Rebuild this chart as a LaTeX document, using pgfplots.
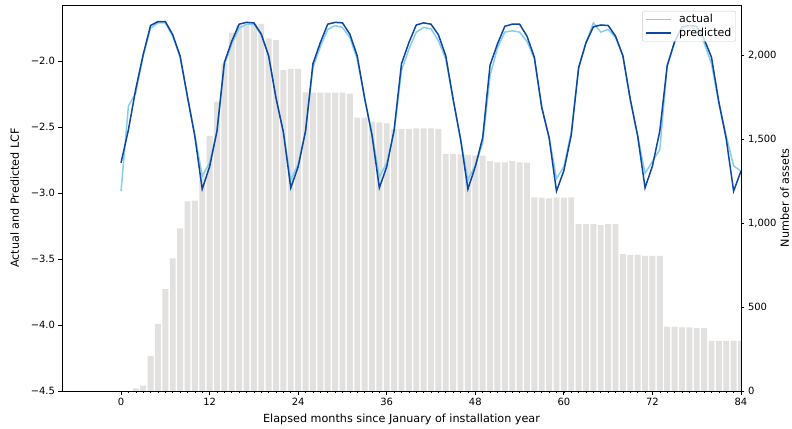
\documentclass[border=0pt]{standalone}
\usepackage{fontspec}
\setmainfont{DejaVu Sans}
\usepackage{pgfplots}
\usepackage{pgfplotstable}
\pgfplotsset{compat=1.18}
\pgfplotsset{/pgf/number format/assume math mode=true}

\definecolor{barcol}{HTML}{E2E1DF}
\definecolor{actcol}{HTML}{87CEEB}
\definecolor{predcol}{HTML}{0D47A1}

% month, number of assets, actual LCF, predicted LCF
\pgfplotstableread{
m  n     act     pred
0  0     -2.985  -2.77
1  0     -2.34   -2.52
2  16    -2.24   -2.21
3  32    -1.96   -1.95
4  208   -1.75   -1.73
5  399   -1.71   -1.70
6  607   -1.71   -1.70
7  790   -1.81   -1.80
8  968   -1.97   -1.96
9  1129  -2.27   -2.27
10 1133  -2.56   -2.57
11 1293  -2.87   -2.97
12 1519  -2.77   -2.80
13 1722  -2.53   -2.53
14 1950  -2.03   -2.01
15 2134  -1.87   -1.85
16 2180  -1.75   -1.72
17 2186  -1.72   -1.706
18 2186  -1.72   -1.71
19 2185  -1.80   -1.795
20 2099  -1.96   -1.96
21 2089  -2.28   -2.28
22 1911  -2.54   -2.54
23 1917  -2.90   -2.96
24 1917  -2.78   -2.80
25 1778  -2.53   -2.53
26 1776  -2.05   -2.02
27 1776  -1.89   -1.86
28 1776  -1.76   -1.72
29 1776  -1.73   -1.706
30 1776  -1.745  -1.71
31 1770  -1.82   -1.795
32 1627  -1.985  -1.96
33 1627  -2.28   -2.28
34 1603  -2.55   -2.56
35 1599  -2.88   -2.96
36 1593  -2.77   -2.80
37 1560  -2.54   -2.52
38 1560  -2.07   -2.02
39 1560  -1.91   -1.86
40 1563  -1.78   -1.726
41 1563  -1.745  -1.71
42 1563  -1.755  -1.72
43 1560  -1.845  -1.80
44 1411  -1.985  -1.96
45 1411  -2.29   -2.29
46 1409  -2.59   -2.59
47 1405  -2.90   -2.97
48 1401  -2.79   -2.80
49 1401  -2.62   -2.58
50 1369  -2.11   -2.03
51 1361  -1.90   -1.87
52 1361  -1.78   -1.736
53 1369  -1.77   -1.72
54 1361  -1.78   -1.72
55 1359  -1.85   -1.81
56 1153  -1.98   -1.97
57 1151  -2.35   -2.35
58 1147  -2.58   -2.58
59 1153  -2.89   -2.985
60 1151  -2.80   -2.83
61 1153  -2.54   -2.56
62 994   -2.05   -2.05
63 994   -1.86   -1.86
64 994   -1.71   -1.74
65 988   -1.78   -1.726
66 994   -1.76   -1.73
67 994   -1.82   -1.81
68 815   -1.96   -1.96
69 810   -2.29   -2.29
70 810   -2.567  -2.567
71 804   -2.85   -2.96
72 804   -2.76   -2.795
73 804   -2.67   -2.53
74 383   -2.035  -2.035
75 383   -1.86   -1.853
76 379   -1.75   -1.74
77 379   -1.745  -1.73
78 375   -1.757  -1.736
79 375   -1.86   -1.833
80 298   -2.02   -1.97
81 298   -2.32   -2.31
82 298   -2.567  -2.59
83 298   -2.795  -2.985
84 298   -2.833  -2.833
}\lcf

\begin{document}
\begin{tikzpicture}
\path[use as bounding box] (-62bp,-38bp) rectangle (730bp,391bp);

% bars: number of assets, right axis
\begin{axis}[
    at={(0,0)}, anchor=south west,
    scale only axis, width=679bp, height=386bp,
    xmin=-8, xmax=84, ymin=0, ymax=2298,
    hide x axis,
    axis y line*=right,
    axis line style={black, line width=0.8bp},
    ytick={0,500,1000,1500,2000},
    yticklabels={0,500,{1,000},{1,500},{2,000}},
    tick align=outside, major tick length=3.5bp,
    every tick/.style={black, line width=0.8bp},
    ylabel={Number of assets},
    label style={font=\fontsize{11.2bp}{13bp}\selectfont},
    ylabel style={yshift=3bp},
]
\addplot[ybar, bar width=0.8, bar shift=0pt, fill=barcol, draw=none] table[x=m, y=n] {\lcf};
\end{axis}

% lines: actual and predicted LCF, left axis
\begin{axis}[
    at={(0,0)}, anchor=south west,
    scale only axis, width=679bp, height=386bp,
    xmin=-8, xmax=84, ymin=-4.5, ymax=-1.5745,
    axis line style={black, line width=0.8bp},
    xtick={0,12,24,36,48,60,72,84},
    minor xtick={0,...,84},
    ytick={-4.5,-4.0,-3.5,-3.0,-2.5,-2.0},
    yticklabels={−4.5,−4.0,−3.5,−3.0,−2.5,−2.0},
    xtick pos=bottom, ytick pos=left,
    tick align=outside, major tick length=3.5bp, minor tick length=2bp,
    every tick/.style={black, line width=0.8bp},
    every minor tick/.style={black, line width=0.6bp},
    xlabel={Elapsed months since January of installation year},
    ylabel={Actual and Predicted LCF},
    label style={font=\fontsize{11.2bp}{13bp}\selectfont},
    xlabel style={yshift=-2bp},
    ylabel style={yshift=5bp},
    legend style={at={(rel axis cs:1,1)}, anchor=north east, xshift=-5bp, yshift=-6bp,
        draw=black!20, rounded corners=2bp, fill=white, fill opacity=0.8, text opacity=1,
        inner xsep=2.5bp, inner ysep=1.2bp,
        font=\fontsize{11bp}{13bp}\selectfont,
        /tikz/every odd column/.append style={column sep=5.8bp},
        cells={anchor=west}},
    legend image code/.code={
        \path (0bp,0bp) -- (25bp,0bp);
        \draw[#1, line width=1.5bp] (2.5bp,0bp) -- (24.5bp,0bp);},
]
\addplot[actcol, line width=1.5bp] table[x=m, y=act] {\lcf};
\addlegendentry{actual}
\addplot[predcol, line width=1.5bp] table[x=m, y=pred] {\lcf};
\addlegendentry{predicted}
\end{axis}
\end{tikzpicture}
\end{document}
